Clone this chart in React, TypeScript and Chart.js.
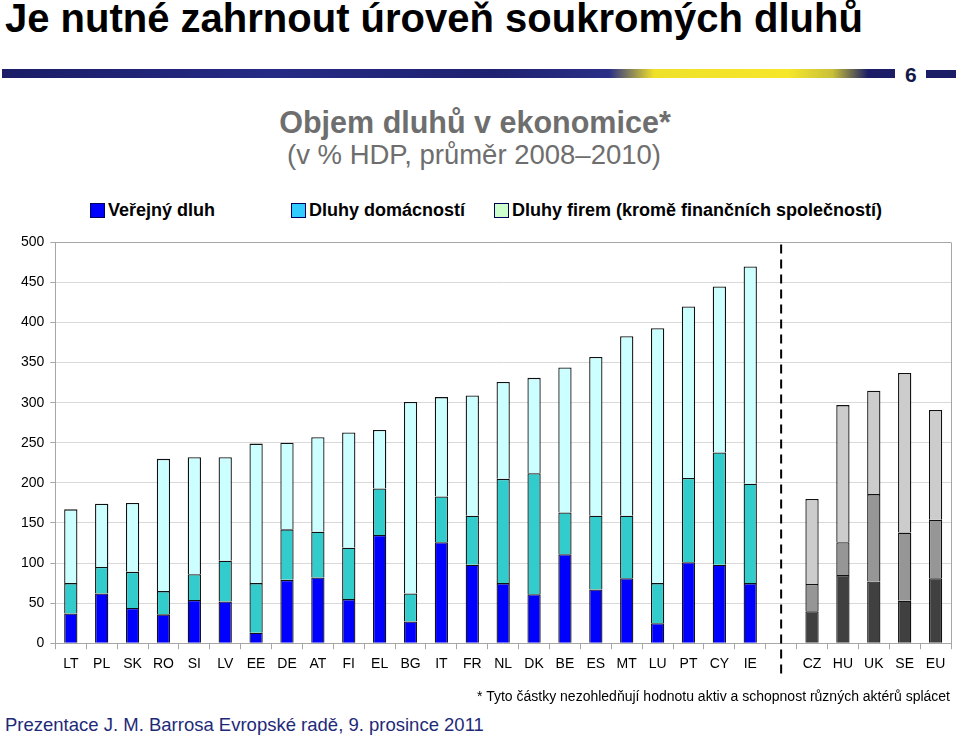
import React, { useEffect, useRef } from "react";
import { Chart, registerables } from "chart.js";

Chart.register(...registerables);

const categories = ["LT","PL","SK","RO","SI","LV","EE","DE","AT","FI","EL","BG","IT","FR","NL","DK","BE","ES","MT","LU","PT","CY","IE","","CZ","HU","UK","SE","EU"];
const publicDebt = [37,62,44,36,54,52,13,79,82,55,135,27,126,98,75,61,111,67,81,25,101,98,75,null,40,85,77,53,81];
const householdDebt = [38,33,45,29,32,51,62,63,57,64,58,35,57,61,130,151,52,92,78,50,105,140,124,null,34,41,109,85,73];
const corporateDebt = [92,79,86,165,146,129,174,108,118,144,73,239,124,150,121,119,181,198,224,318,214,207,271,null,106,171,129,199,137];
const yTicks = [0,50,100,150,200,250,300,350,400,450,500];
const seriesNames = ["Veřejný dluh","Dluhy domácností","Dluhy firem (kromě finančních společností)"];
const separatorIndex = 23;

const FONT = "'Liberation Sans', Arial, Helvetica, sans-serif";

const colorFor = (base: string, gray: string) => (ctx: any) =>
  ctx.dataIndex > separatorIndex ? gray : base;

const separatorPlugin = {
  id: "separator",
  afterDatasetsDraw(chart: any) {
    const { ctx, chartArea, scales } = chart;
    ctx.save();
    ctx.strokeStyle = "#a6a6a6";
    ctx.lineWidth = 1;
    ctx.beginPath();
    ctx.moveTo(chartArea.left, Math.round(chartArea.top) + 0.5);
    ctx.lineTo(chartArea.right, Math.round(chartArea.top) + 0.5);
    ctx.moveTo(Math.round(chartArea.right) + 0.5, chartArea.top);
    ctx.lineTo(Math.round(chartArea.right) + 0.5, chartArea.bottom);
    ctx.stroke();
    const x = scales.x.getPixelForValue(separatorIndex);
    ctx.strokeStyle = "#000";
    ctx.lineWidth = 2;
    ctx.setLineDash([9, 6]);
    ctx.beginPath();
    ctx.moveTo(x, chartArea.top + 2);
    ctx.lineTo(x, chartArea.bottom + 32);
    ctx.stroke();
    ctx.restore();
  },
};

function DebtChart() {
  const ref = useRef<HTMLCanvasElement | null>(null);
  useEffect(() => {
    if (!ref.current) return;
    const common = { borderColor: "#111", borderWidth: 1.3, barPercentage: 0.43, categoryPercentage: 1 };
    const chart = new Chart(ref.current, {
      type: "bar",
      data: {
        labels: categories,
        datasets: [
          { label: seriesNames[0], data: publicDebt, backgroundColor: colorFor("#0000FF", "#404040"), ...common },
          { label: seriesNames[1], data: householdDebt, backgroundColor: colorFor("#33CCCC", "#969696"), ...common },
          { label: seriesNames[2], data: corporateDebt, backgroundColor: colorFor("#CCFFFF", "#CCCCCC"), ...common },
        ],
      },
      options: {
        animation: false,
        responsive: false,
        maintainAspectRatio: false,
        layout: { padding: { left: 15, right: 9, top: 7, bottom: 10 } },
        plugins: { legend: { display: false }, tooltip: { enabled: false }, title: { display: false } },
        scales: {
          x: {
            stacked: true,
            grid: { display: true, drawOnChartArea: false, drawTicks: true, tickLength: 6, tickColor: "#a6a6a6", offset: true },
            border: { display: true, color: "#a6a6a6" },
            ticks: { color: "#000", font: { family: FONT, size: 14 }, padding: 7, autoSkip: false, maxRotation: 0 },
          },
          y: {
            stacked: true,
            min: 0,
            max: 500,
            afterBuildTicks: (axis: any) => { axis.ticks = yTicks.map((v) => ({ value: v })); },
            grid: { color: "#d9d9d9", tickLength: 5, tickColor: "#a6a6a6" },
            border: { display: true, color: "#a6a6a6" },
            ticks: { color: "#000", font: { family: FONT, size: 14 }, padding: 6 },
          },
        },
      },
      plugins: [separatorPlugin],
    } as any);
    return () => chart.destroy();
  }, []);
  return <canvas ref={ref} width={960} height={462} style={{ position: "absolute", left: 0, top: 228, width: 960, height: 462 }} />;
}

const legendColors = ["#0000FF", "#33CCFF", "#CCFFCC"];
const legendX = [90, 291, 494];

export default function App() {
  return (
    <div style={{ position: "absolute", left: 0, top: 0, width: 960, height: 738, background: "#fff", overflow: "hidden", fontFamily: FONT }}>
      <div style={{ position: "absolute", left: 5, top: -2, fontSize: 40, lineHeight: "40px", fontWeight: "bold", color: "#000", whiteSpace: "nowrap" }}>
        Je nutné zahrnout úroveň soukromých dluhů
      </div>
      <div style={{ position: "absolute", left: 2, top: 69, width: 893, height: 9, background: "linear-gradient(90deg, #1b1d66 0%, #252a85 30%, #1f2270 55%, #2a2f86 68%, #efe02a 73%, #f6e72a 88%, #c9c03a 93%, #1b1d66 97%, #1b1d66 100%)" }} />
      <div style={{ position: "absolute", left: 905, top: 62, fontSize: 21, lineHeight: "26px", fontWeight: "bold", color: "#14184a" }}>6</div>
      <div style={{ position: "absolute", left: 926, top: 70, width: 30, height: 8, background: "#1b1d66" }} />
      <div style={{ position: "absolute", left: 0, width: 950, top: 104, textAlign: "center", fontSize: 30.5, lineHeight: "36px", fontWeight: "bold", color: "#6e6e6e" }}>
        Objem dluhů v ekonomice*
      </div>
      <div style={{ position: "absolute", left: 0, width: 948, top: 139, textAlign: "center", fontSize: 27.5, lineHeight: "32px", color: "#6e6e6e" }}>
        (v % HDP, průměr 2008–2010)
      </div>
      {seriesNames.map((name, i) => (
        <div key={name} style={{ position: "absolute", left: legendX[i], top: 199, height: 22, display: "flex", alignItems: "center", whiteSpace: "nowrap" }}>
          <span style={{ display: "inline-block", width: 13, height: 13, background: legendColors[i], border: "1px solid #00005a", marginRight: 3 }} />
          <span style={{ fontSize: 18, fontWeight: "bold", color: "#000" }}>{name}</span>
        </div>
      ))}
      <DebtChart />
      <div style={{ position: "absolute", right: 10, top: 687, fontSize: 14, lineHeight: "18px", color: "#000", whiteSpace: "nowrap" }}>
        * Tyto částky nezohledňují hodnotu aktiv a schopnost různých aktérů splácet
      </div>
      <div style={{ position: "absolute", left: 5, top: 714, fontSize: 18.5, lineHeight: "22px", color: "#1e2a78", whiteSpace: "nowrap" }}>
        Prezentace J. M. Barrosa Evropské radě, 9. prosince 2011
      </div>
    </div>
  );
}
